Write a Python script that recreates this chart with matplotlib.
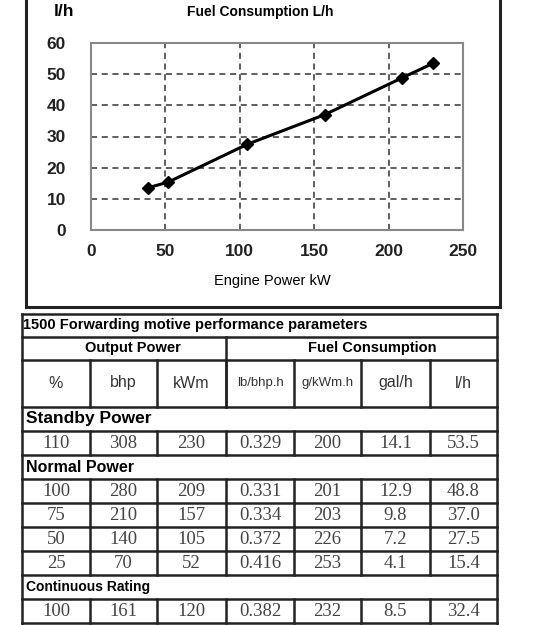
import matplotlib
matplotlib.use("Agg")
import matplotlib.pyplot as plt
from matplotlib.patches import Rectangle

power_kw = [38, 52, 105, 157, 209, 230]
fuel_lh = [13.5, 15.4, 27.5, 37.0, 48.8, 53.5]
x_ticks = [0, 50, 100, 150, 200, 250]
y_ticks = [0, 10, 20, 30, 40, 50, 60]

col_headers = ["%", "bhp", "kWm", "lb/bhp.h", "g/kWm.h", "gal/h", "l/h"]
standby_rows = [["110", "308", "230", "0.329", "200", "14.1", "53.5"]]
normal_rows = [["100", "280", "209", "0.331", "201", "12.9", "48.8"],
               ["75", "210", "157", "0.334", "203", "9.8", "37.0"],
               ["50", "140", "105", "0.372", "226", "7.2", "27.5"],
               ["25", "70", "52", "0.416", "253", "4.1", "15.4"]]
continuous_rows = [["100", "161", "120", "0.382", "232", "8.5", "32.4"]]

W, H = 560, 625
fig = plt.figure(figsize=(W / 100, H / 100), dpi=100)
plt.rcParams['font.family'] = ['Liberation Sans', 'DejaVu Sans']

def fx(px): return px / W
def fy(py): return 1 - py / H

ov = fig.add_axes([0, 0, 1, 1])
ov.set_xlim(0, W); ov.set_ylim(H, 0); ov.axis('off')
ov.add_patch(Rectangle((26, -2), 474, 309, fill=False, lw=2.2, color='#222'))

ax = fig.add_axes([fx(91), fy(230), fx(463) - fx(91), fy(43) - fy(230)])
ax.plot(power_kw, fuel_lh, color='black', lw=2.2, marker='D', ms=6.5)
ax.set_xlim(0, 250); ax.set_ylim(0, 60)
ax.set_xticks(x_ticks); ax.set_yticks(y_ticks)
ax.grid(True, ls='--', color='#333', lw=1.1, dashes=(4, 3))
for t in ax.get_xticklabels() + ax.get_yticklabels():
    t.set_fontweight('bold'); t.set_fontsize(12.5); t.set_color('#222')
ax.tick_params(axis='x', length=0, pad=10)
ax.tick_params(axis='y', length=0, pad=18)
for s in ax.spines.values():
    s.set_color('#888'); s.set_linewidth(1.5)
ov.text(64, 12, "l/h", fontsize=12.5, fontweight='bold', ha='center', va='center')
ov.text(260, 12, "Fuel Consumption L/h", fontsize=10, fontweight='bold', ha='center', va='center')
ov.text(272, 281, "Engine Power kW", fontsize=10.5, ha='center', va='center')

cols = [22, 90, 157, 226, 294, 361, 430, 497]
lw = 1.8
def hline(y): ov.plot([22, 497], [y, y], color='#222', lw=lw)
def vlines(y0, y1, xs):
    for x in xs: ov.plot([x, x], [y0, y1], color='#222', lw=lw)

ov.plot([22, 22], [314, 625], color='#222', lw=lw)
ov.plot([497, 497], [314, 625], color='#222', lw=lw)
hline(314)
ov.text(23, 325, "1500 Forwarding motive performance parameters", fontsize=10.5,
        fontweight='bold', ha='left', va='center')
hline(337)
ov.text(133, 348, "Output Power", fontsize=10.5, fontweight='bold', ha='center', va='center')
ov.text(372, 348, "Fuel Consumption", fontsize=10.5, fontweight='bold', ha='center', va='center')
vlines(337, 407, [226])
hline(360)
vlines(360, 407, cols[1:-1])
for i, h in enumerate(col_headers):
    ov.text((cols[i] + cols[i + 1]) / 2, 383, h, fontsize=11.5 if len(h) < 6 else 9.5,
            ha='center', va='center', color='#333')
hline(407)

def section(y0, title, rows, size):
    ov.text(26, (y0 + y0 + 24) / 2, title, fontsize=size, fontweight='bold', ha='left', va='center')
    y = y0 + 24
    hline(y)
    for r in rows:
        vlines(y, y + 24, cols[1:-1])
        for i, v in enumerate(r):
            ov.text((cols[i] + cols[i + 1]) / 2, y + 12.5, v, fontsize=13.5, ha='center',
                    va='center', color='#444', family=['Liberation Serif', 'DejaVu Serif'])
        y += 24
        hline(y)
    return y

y = section(407, "Standby Power", standby_rows, 12.5)
y = section(y, "Normal Power", normal_rows, 11.5)
y = section(y, "Continuous Rating", continuous_rows, 10)

fig.savefig("out.png", dpi=100)
